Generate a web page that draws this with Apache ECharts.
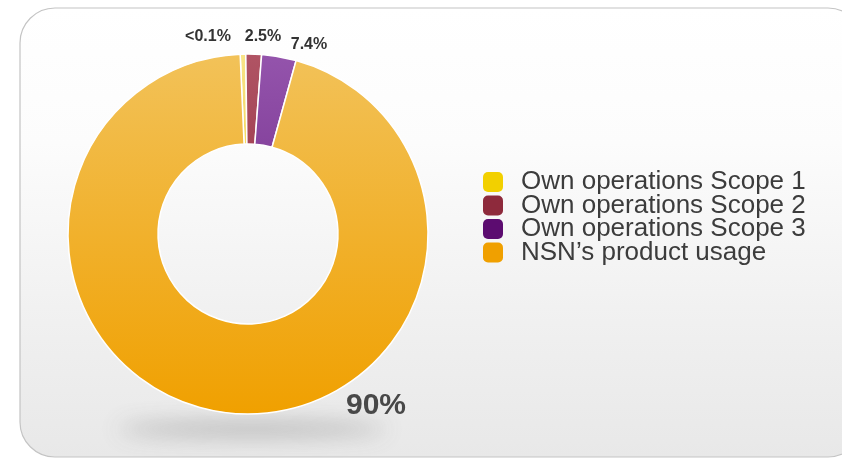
<!DOCTYPE html>
<html>
<head>
<meta charset="utf-8">
<script src="https://cdn.jsdelivr.net/npm/echarts@6/dist/echarts.min.js"></script>
<style>
  html, body { margin: 0; padding: 0; background: #fff; }
  #main { width: 842px; height: 458px; }
</style>
</head>
<body>
<div id="main"></div>
<script>
// categories and values (slice sizes as drawn in the picture)
var names = ['Own operations Scope 1', 'Own operations Scope 2', 'Own operations Scope 3', "NSN\u2019s product usage"];
var values = [0.5, 1.4, 3.1, 95.0];
var labelText = ['<0.1%', '2.5%', '7.4%', '90%'];
var legendColors = ['#f2d000', '#8e2a3c', '#5c0c70', '#f0a000'];
var sliceTop = ['#f8e488', '#b05464', '#9454ac', '#f2c259'];
var sliceBottom = ['#f4d860', '#a44456', '#86449e', '#f0a000'];

// where each percentage text sits
var labelAt = [[208, 37], [263, 37], [309, 45], [376, 406]];
var labelSize = [16, 16, 16, 30];

var chart = echarts.init(document.getElementById('main'));

var seriesData = [];
for (var i = 0; i < names.length; i++) {
  seriesData.push({
    name: names[i],
    value: values[i],
    itemStyle: {
      color: {
        type: 'linear', x: 0, y: 0, x2: 0, y2: 1,
        colorStops: [{ offset: 0, color: sliceTop[i] }, { offset: 1, color: sliceBottom[i] }]
      }
    },
    label: { fontSize: labelSize[i], color: i == 3 ? '#484848' : '#333' }
  });
}

var legendData = names.map(function (n, i) {
  return { name: n, itemStyle: { color: legendColors[i], borderWidth: 0 } };
});

var option = {
  backgroundColor: '#fff',
  animation: false,
  graphic: [
    {
      type: 'rect',
      z: -10,
      shape: { x: 20, y: 8, width: 843, height: 449, r: 35 },
      style: {
        fill: {
          type: 'linear', x: 0, y: 0, x2: 0, y2: 1,
          colorStops: [
            { offset: 0, color: '#ffffff' },
            { offset: 0.3, color: '#fcfcfc' },
            { offset: 0.7, color: '#f0f0f0' },
            { offset: 1, color: '#e8e8e8' }
          ]
        },
        stroke: '#c4c4c4',
        lineWidth: 1.2
      }
    },
    {
      // soft shadow under the ring: the shape sits off-canvas, only its blurred shadow shows
      type: 'ellipse',
      z: -5,
      shape: { cx: 252, cy: 429 - 1000, rx: 135, ry: 7 },
      style: {
        fill: '#888',
        shadowBlur: 22,
        shadowColor: 'rgba(100,100,100,0.42)',
        shadowOffsetX: 0,
        shadowOffsetY: 1000
      }
    }
  ],
  legend: {
    orient: 'vertical',
    left: 483,
    top: 169,
    padding: 0,
    itemWidth: 20,
    itemHeight: 20,
    itemGap: -2.5,
    icon: 'roundRect',
    selectedMode: false,
    data: legendData,
    itemStyle: { borderWidth: 0 },
    textStyle: {
      fontFamily: 'Liberation Sans, Arial, sans-serif',
      fontSize: 26,
      color: '#3c3c3c',
      padding: [0, 0, 0, 13]
    }
  },
  series: [
    {
      type: 'pie',
      center: [248, 234],
      radius: [90, 180],
      startAngle: 92.5,
      clockwise: true,
      avoidLabelOverlap: false,
      itemStyle: { borderColor: '#fff', borderWidth: 1.5 },
      label: {
        show: true,
        position: 'outside',
        fontFamily: 'Liberation Sans, Arial, sans-serif',
        fontWeight: 'bold',
        formatter: function (p) { return labelText[p.dataIndex]; }
      },
      labelLine: { show: false },
      labelLayout: function (p) {
        var pos = labelAt[p.dataIndex];
        return { x: pos[0], y: pos[1], align: 'center', verticalAlign: 'middle' };
      },
      emphasis: { disabled: true },
      data: seriesData
    }
  ]
};

chart.setOption(option);
</script>
</body>
</html>
